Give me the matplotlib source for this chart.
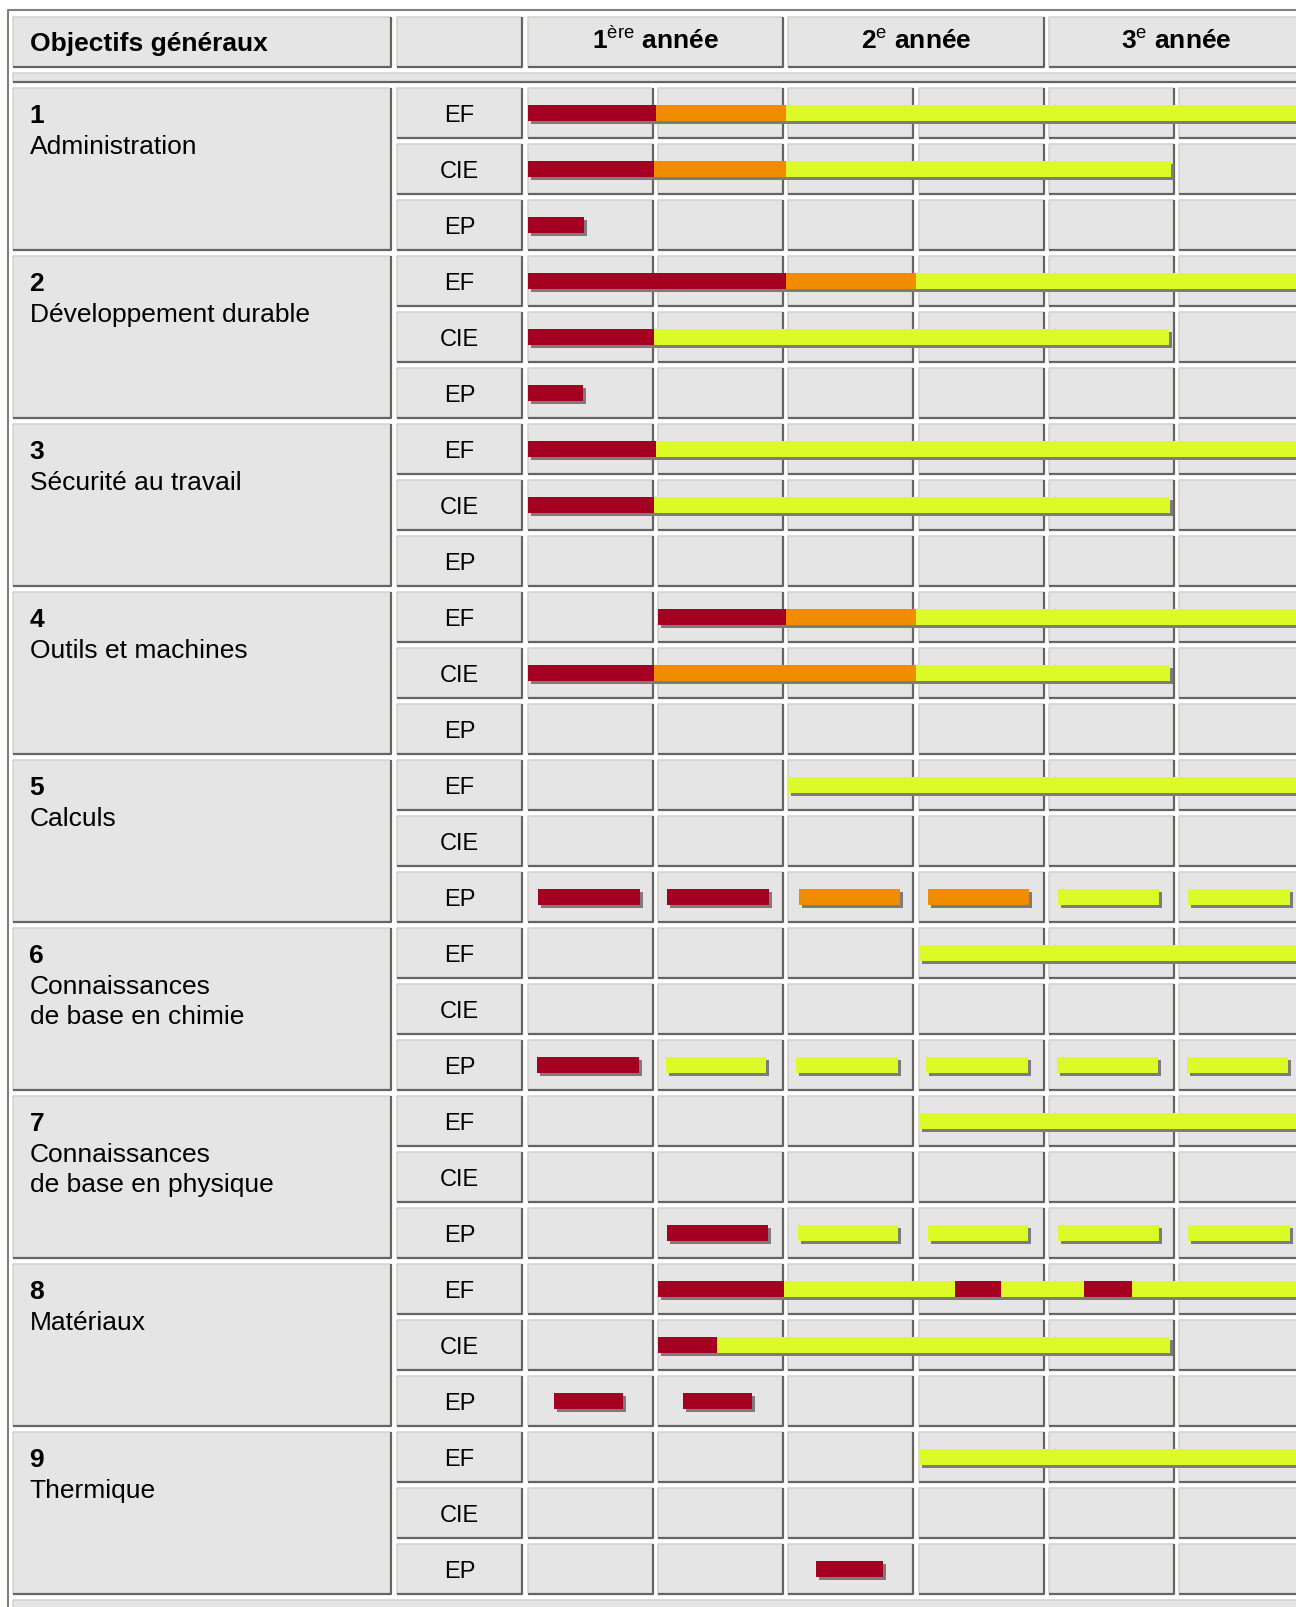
import matplotlib.pyplot as plt
from matplotlib.collections import LineCollection
from matplotlib.patches import Rectangle

plt.rcParams['font.family'] = ['Liberation Sans', 'DejaVu Sans']
plt.rcParams['mathtext.fontset'] = 'custom'
plt.rcParams['mathtext.rm'] = 'Liberation Sans'
plt.rcParams['mathtext.bf'] = 'Liberation Sans:bold'

# --- data -----------------------------------------------------------------
objectives = ["Administration", "Développement durable", "Sécurité au travail",
              "Outils et machines", "Calculs", "Connaissances\nde base en chimie",
              "Connaissances\nde base en physique", "Matériaux", "Thermique"]
kinds = ["EF", "CIE", "EP"]
years = ["1", "2", "3"]
year_sup = ["ère", "e", "e"]

# each row: list of (start, end, level) in semesters; level 1 red, 2 orange, 3 yellow
administration = [[(0, 0.98, 1), (0.98, 1.98, 2), (1.98, 6, 3)],
                  [(0, 0.97, 1), (0.97, 1.98, 2), (1.98, 4.94, 3)],
                  [(0, 0.43, 1)]]
durable = [[(0, 1.98, 1), (1.98, 2.98, 2), (2.98, 6, 3)],
           [(0, 0.97, 1), (0.97, 4.92, 3)],
           [(0, 0.42, 1)]]
securite = [[(0, 0.98, 1), (0.98, 6, 3)],
            [(0, 0.97, 1), (0.97, 4.93, 3)],
            []]
outils = [[(1.0, 1.98, 1), (1.98, 2.98, 2), (2.98, 6, 3)],
          [(0, 0.97, 1), (0.97, 2.98, 2), (2.98, 4.93, 3)],
          []]
calculs = [[(2.0, 6, 3)],
           [],
           [(0.08, 0.86, 1), (1.07, 1.85, 1), (2.08, 2.86, 2), (3.07, 3.85, 2),
            (4.07, 4.85, 3), (5.07, 5.85, 3)]]
chimie = [[(3.0, 6, 3)],
          [],
          [(0.07, 0.85, 1), (1.06, 1.83, 3), (2.06, 2.84, 3), (3.06, 3.84, 3),
           (4.06, 4.84, 3), (5.06, 5.84, 3)]]
physique = [[(3.0, 6, 3)],
            [],
            [(1.07, 1.84, 1), (2.07, 2.84, 3), (3.07, 3.84, 3), (4.07, 4.85, 3),
             (5.07, 5.85, 3)]]
materiaux = [[(1.0, 1.97, 1), (1.97, 3.28, 3), (3.28, 3.63, 1), (3.63, 4.27, 3),
              (4.27, 4.64, 1), (4.64, 6, 3)],
             [(1.0, 1.45, 1), (1.45, 4.93, 3)],
             [(0.2, 0.73, 1), (1.19, 1.72, 1)]]
thermique = [[(3.0, 6, 3)],
             [],
             [(2.21, 2.73, 1)]]
plans = [administration, durable, securite, outils, calculs, chimie, physique,
         materiaux, thermique]

# --- style / layout ---------------------------------------------------------
level_colors = {1: "#a50021", 2: "#f08c00", 3: "#dcfa28"}
FILL, LIGHT, DARK, OUTER, SHADOW = "#e5e5e5", "#d4d0c8", "#646464", "#808080", "#7c7c7c"
W, H = 1296, 1607
X0, PX = 528, 130.2   # first semester column, px per semester
Y0, PY = 88, 56       # first row, px per row
CW, CH = 125, 50      # cell size px
FS_BIG, FS_SMALL = 19, 17

fig = plt.figure(figsize=(W / 100, H / 100), dpi=100)
fig.patch.set_facecolor("white")
ax = fig.add_axes([0, 0, 1, 1])
ax.set_xlim(0, W)
ax.set_ylim(H, 0)
ax.axis("off")

gx = fig.add_axes([0, 0, 1, 1])
gx.set_xlim(-X0 / PX, (W - X0) / PX)
gx.set_ylim((H - Y0) / PY, -Y0 / PY)
gx.axis("off")


def cells(axis, boxes, lw_light=1.1, lw_dark=1.6):
    light, dark = [], []
    for x0, y0, x1, y1 in boxes:
        axis.add_patch(Rectangle((x0, y0), x1 - x0, y1 - y0, facecolor=FILL,
                                 edgecolor="none", zorder=1))
        light.append([(x0, y1), (x0, y0), (x1, y0)])
        dark.append([(x1, y0), (x1, y1), (x0, y1)])
    axis.add_collection(LineCollection(light, colors=LIGHT, linewidths=lw_light, zorder=2))
    axis.add_collection(LineCollection(dark, colors=DARK, linewidths=lw_dark, zorder=2))


# outer table border
ax.plot([8, 8, W + 5], [H + 5, 9.5, 9.5], color=OUTER, lw=1.5, zorder=3)

# header row
hdr = [(13, 17, 391, 67), (397, 17, 522, 67)]
hdr += [(X0 + 2 * i * PX, 17, X0 + 2 * i * PX + PX + CW, 67) for i in range(len(years))]
# separator row and last row
hdr += [(13, 73, W + 20, 82), (13, 1600, W + 20, H + 20)]
# objective and label columns
n_rows = len(plans) * len(kinds)
for g in range(len(plans)):
    top = Y0 + g * 3 * PY
    hdr.append((13, top, 391, top + 2 * PY + CH))
for r in range(n_rows):
    hdr.append((397, Y0 + r * PY, 522, Y0 + r * PY + CH))
cells(ax, hdr)

# semester grid in data units
grid = [(k, r, k + CW / PX, r + CH / PY) for r in range(n_rows) for k in range(6)]
cells(gx, grid)

# header texts
ax.text(29.5, 51, "Objectifs généraux", fontsize=FS_BIG, fontweight="bold",
        va="baseline", ha="left", zorder=5)
for i, (y, s) in enumerate(zip(years, year_sup)):
    xc = X0 + 2 * i * PX + (PX + CW) / 2
    ax.text(xc, 49, rf"$\mathbf{{{y}}}^{{\mathrm{{{s}}}}}$ année", fontsize=FS_BIG,
            fontweight="bold", va="baseline", ha="center", zorder=5)

# objective texts and row labels
for g, name in enumerate(objectives):
    top = Y0 + g * 3 * PY
    ax.text(29.5, top + 35, str(g + 1), fontsize=FS_BIG, fontweight="bold",
            va="baseline", ha="left", zorder=5)
    for j, line in enumerate(name.split("\n")):
        ax.text(29.5, top + 66 + 30 * j, line, fontsize=FS_BIG,
                va="baseline", ha="left", zorder=5)
    for k, kind in enumerate(kinds):
        ax.text(459.5, top + k * PY + 34, kind, fontsize=FS_SMALL,
                va="baseline", ha="center", zorder=5)

# bars
bh = 16 / PY
for g, plan in enumerate(plans):
    for k, segs in enumerate(plan):
        r = g * 3 + k
        yc = r + 25 / PY
        for s, e, lev in segs:
            gx.barh(yc + 3 / PY, e - s, left=s + 3 / PX, height=bh,
                    color=SHADOW, zorder=3)
        for s, e, lev in segs:
            gx.barh(yc, e - s, left=s, height=bh, color=level_colors[lev], zorder=4)

gx.set_xlim(-X0 / PX, (W - X0) / PX)
gx.set_ylim((H - Y0) / PY, -Y0 / PY)

fig.savefig("out.png", dpi=100)
